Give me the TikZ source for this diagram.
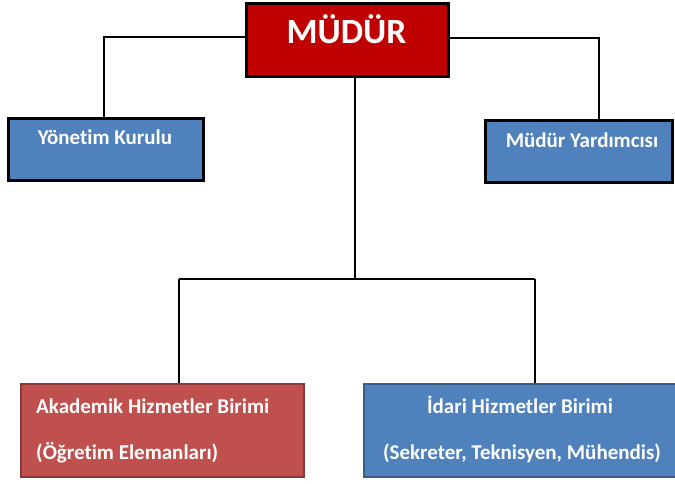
\documentclass[tikz,border=0pt]{standalone}
\usepackage{fontspec}
\setmainfont[RawFeature=-liga]{Carlito}
\definecolor{mred}{HTML}{C00000}
\definecolor{ablue}{HTML}{4F81BD}
\definecolor{abluedk}{HTML}{385D8A}
\definecolor{ared}{HTML}{C0504D}
\definecolor{areddk}{HTML}{8C3836}
\begin{document}
\begin{tikzpicture}[x=1pt,y=-1pt,
  blackbox/.style={draw=black,line width=3pt,inner sep=0pt},
  unitbox/.style={line width=2pt,inner sep=0pt},
  conn/.style={draw=black,line width=1.6pt},
  lbl/.style={text=white,font=\bfseries\fontsize{21}{25}\selectfont,inner sep=0pt}]
\useasboundingbox (0,0) rectangle (675,483);
% boxes
\node[blackbox,fill=mred,minimum width=202pt,minimum height=73pt] (mudur) at (347.5,40) {};
\node[blackbox,fill=ablue,minimum width=195pt,minimum height=62pt] (yk) at (106,149.5) {};
\node[blackbox,fill=ablue,minimum width=187pt,minimum height=62pt] (my) at (579,151.5) {};
\node[unitbox,draw=areddk,fill=ared,minimum width=283pt,minimum height=93pt] (ak) at (162.5,430.5) {};
\node[unitbox,draw=abluedk,fill=ablue,minimum width=315pt,minimum height=93pt] (id) at (521.5,430.5) {};
% texts
\node[lbl,font=\bfseries\fontsize{35.5}{40}\selectfont,anchor=base] (mudurT) at (346.5,43) {MÜDÜR};
\node[lbl,anchor=base] (ykT) at (105,144) {Yönetim Kurulu};
\node[lbl,anchor=base] (myT) at (582,147) {Müdür Yardımcısı};
\node[lbl,anchor=base west] (akT1) at (36,413) {Akademik Hizmetler Birimi};
\node[lbl,anchor=base west] (akT2) at (36,459) {(Öğretim Elemanları)};
\node[lbl,anchor=base] (idT1) at (520,413) {İdari Hizmetler Birimi};
\node[lbl,anchor=base] (idT2) at (522,459) {(Sekreter, Teknisyen, Mühendis)};
% connector helpers
\coordinate (ljoin) at (104,37);
\coordinate (rjoin) at (599,38);
\coordinate (hub) at (355,279);
\coordinate (akjoin) at (179,279);
\coordinate (idjoin) at (535,279);
% connectors
\draw[conn] (mudur.west |- ljoin) -- (ljoin) -- (ljoin |- yk.north);
\draw[conn] (mudur.east |- rjoin) -- (rjoin) -- (rjoin |- my.north);
\draw[conn] (hub |- mudur.south) -- (hub);
\draw[conn] (akjoin) -- (idjoin);
\draw[conn] (akjoin) -- (akjoin |- ak.north);
\draw[conn] (idjoin) -- (idjoin |- id.north);
\end{tikzpicture}
\end{document}
